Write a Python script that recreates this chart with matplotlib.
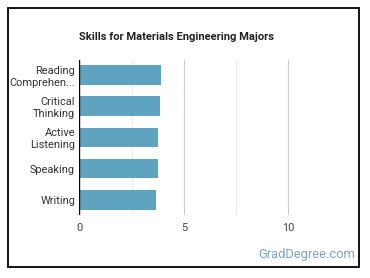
import numpy as np
import matplotlib.pyplot as plt
from matplotlib.patches import Rectangle

plt.rcParams['font.family'] = ['Roboto', 'DejaVu Sans']

# Skill scores
skills = ['Reading\nComprehen...', 'Critical\nThinking', 'Active\nListening', 'Speaking', 'Writing']
scores = [3.92, 3.86, 3.78, 3.78, 3.68]
x_ticks = [0, 5, 10]

fig = plt.figure(figsize=(3.7, 2.78), dpi=100)
ax = fig.add_axes([0.2143, 0.2266, 0.706, 0.5576])

y = np.arange(len(skills))
ax.barh(y, scores, height=0.645, color='#5ea4c1', zorder=3)

# gridlines: light at halves, darker at ticks
for v in [2.5, 7.5]:
    ax.axvline(v, color='#ececec', lw=0.8, zorder=1)
for v in [5, 10]:
    ax.axvline(v, color='#cccccc', lw=0.8, zorder=1)
ax.axvline(0, color='black', lw=1.0, zorder=4)

ax.set_xlim(0, 12.5)
ax.set_ylim(len(skills) - 0.5, -0.5)
ax.set_yticks(y)
ax.set_yticklabels(skills, fontsize=7.9, color='#333333', linespacing=1.2)
ax.set_xticks(x_ticks)
ax.set_xticklabels([str(t) for t in x_ticks], fontsize=7.9, color='#444444')
ax.tick_params(length=0, pad=3)
ax.tick_params(axis='x', pad=6)
for s in ax.spines.values():
    s.set_visible(False)

fig.text(0.478, 0.867, 'Skills for Materials Engineering Majors', ha='center', va='center',
         fontsize=8.0, fontweight='bold', color='#222222')
fig.text(0.96, 0.083, 'GradDegree.com', ha='right', va='center',
         fontsize=9.3, color='#7ea3bd')

# outer frame
fig.patches.append(Rectangle((8 / 370, 1 - 267 / 278), 351 / 370, 259 / 278,
                             transform=fig.transFigure, fill=False,
                             edgecolor='black', lw=1.3))

fig.savefig('out.png', dpi=100)
